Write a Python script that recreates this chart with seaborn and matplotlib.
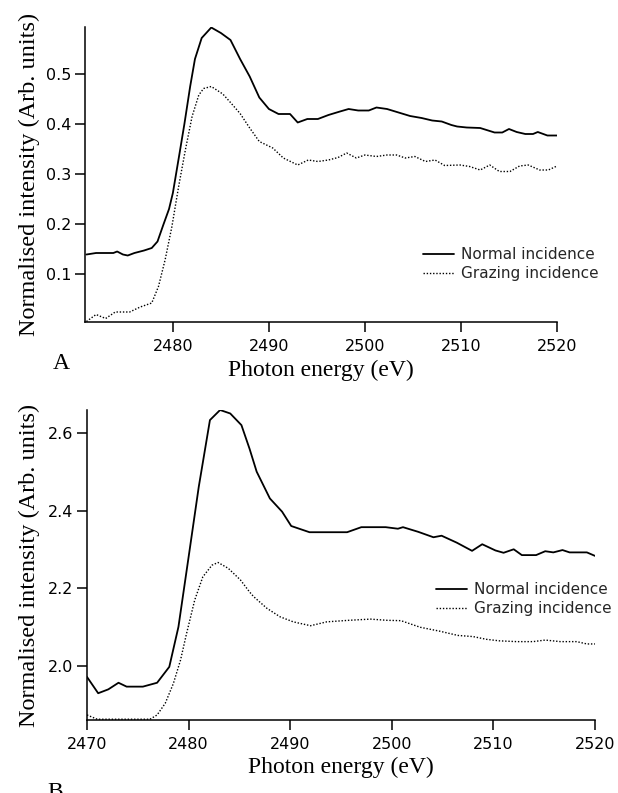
import matplotlib
matplotlib.use("Agg")
import matplotlib.pyplot as plt
import seaborn as sns
import pandas as pd

# ---------------- data ----------------
# Panel A
energy_a_normal = [2471.0, 2472.0, 2473.0, 2473.8, 2474.2, 2474.8, 2475.3, 2476.0, 2477.0, 2477.8,
                   2478.4, 2479.0, 2479.6, 2480.0, 2480.7, 2481.2, 2481.8, 2482.3, 2483.0, 2484.0,
                   2485.0, 2486.0, 2487.0, 2488.0, 2489.0, 2490.0, 2491.0, 2492.2, 2493.0, 2494.0,
                   2495.1, 2496.2, 2497.4, 2498.3, 2499.3, 2500.4, 2501.2, 2502.3, 2503.5, 2504.7,
                   2505.9, 2507.0, 2508.0, 2509.0, 2509.6, 2510.6, 2512.0, 2513.5, 2514.3, 2515.0,
                   2515.8, 2516.7, 2517.5, 2518.0, 2519.0, 2520.0]
intensity_a_normal = [0.139, 0.142, 0.142, 0.142, 0.145, 0.139, 0.137, 0.142, 0.147, 0.152,
                      0.165, 0.198, 0.230, 0.262, 0.342, 0.400, 0.475, 0.530, 0.572, 0.593,
                      0.582, 0.568, 0.530, 0.495, 0.453, 0.430, 0.420, 0.420, 0.403, 0.410,
                      0.410, 0.418, 0.425, 0.430, 0.427, 0.427, 0.433, 0.430, 0.423, 0.416,
                      0.412, 0.407, 0.405, 0.398, 0.395, 0.393, 0.392, 0.383, 0.383, 0.390,
                      0.384, 0.380, 0.380, 0.384, 0.377, 0.377]

energy_a_grazing = [2471.0, 2472.0, 2473.0, 2474.0, 2475.5, 2476.6, 2477.8, 2478.5, 2479.2, 2479.9,
                    2480.6, 2481.3, 2482.0, 2482.7, 2483.2, 2484.0, 2485.2, 2486.0, 2487.0, 2488.0,
                    2489.0, 2490.4, 2491.5, 2493.0, 2494.1, 2495.1, 2496.2, 2497.2, 2498.1, 2499.1,
                    2500.0, 2501.2, 2502.3, 2503.3, 2504.2, 2505.2, 2506.3, 2507.3, 2508.3, 2509.9,
                    2510.9, 2512.0, 2513.0, 2514.0, 2515.1, 2516.1, 2517.0, 2518.2, 2519.1, 2520.0]
intensity_a_grazing = [0.005, 0.019, 0.011, 0.024, 0.024, 0.034, 0.042, 0.075, 0.129, 0.195,
                       0.275, 0.348, 0.415, 0.458, 0.471, 0.475, 0.460, 0.443, 0.421, 0.392,
                       0.365, 0.352, 0.332, 0.318, 0.328, 0.325, 0.328, 0.333, 0.342, 0.332,
                       0.338, 0.335, 0.338, 0.338, 0.332, 0.335, 0.325, 0.328, 0.317, 0.318,
                       0.315, 0.308, 0.318, 0.305, 0.305, 0.316, 0.318, 0.308, 0.308, 0.316]

# Panel B
energy_b_normal = [2470.0, 2471.1, 2472.1, 2473.1, 2473.9, 2475.5, 2476.9, 2478.1, 2479.0, 2480.1,
                   2481.0, 2482.1, 2483.1, 2484.1, 2485.2, 2486.0, 2486.7, 2488.0, 2489.2, 2490.1,
                   2491.9, 2495.6, 2497.0, 2499.4, 2500.6, 2501.1, 2502.6, 2504.1, 2504.9, 2506.4,
                   2507.9, 2508.9, 2510.2, 2511.0, 2512.0, 2512.8, 2514.2, 2515.1, 2515.9, 2516.8,
                   2517.5, 2519.2, 2520.0]
intensity_b_normal = [1.972, 1.930, 1.940, 1.957, 1.947, 1.947, 1.957, 1.998, 2.101, 2.299,
                      2.462, 2.634, 2.660, 2.651, 2.621, 2.560, 2.501, 2.432, 2.398, 2.361,
                      2.345, 2.345, 2.358, 2.358, 2.354, 2.358, 2.346, 2.332, 2.336, 2.318,
                      2.297, 2.314, 2.298, 2.292, 2.301, 2.286, 2.286, 2.296, 2.293, 2.299,
                      2.293, 2.293, 2.284]

energy_b_grazing = [2470.0, 2471.0, 2476.2, 2476.9, 2477.7, 2478.5, 2479.2, 2479.8, 2480.6, 2481.4,
                    2482.3, 2482.9, 2483.9, 2485.1, 2486.0, 2486.4, 2487.7, 2489.0, 2490.3, 2492.0,
                    2493.6, 2495.8, 2497.9, 2499.5, 2500.9, 2502.8, 2504.7, 2506.5, 2508.0, 2509.3,
                    2510.6, 2512.3, 2513.9, 2515.1, 2516.6, 2518.2, 2519.2, 2520.0]
intensity_b_grazing = [1.874, 1.863, 1.863, 1.874, 1.904, 1.955, 2.015, 2.084, 2.170, 2.230,
                       2.260, 2.267, 2.252, 2.222, 2.191, 2.179, 2.149, 2.127, 2.114, 2.104,
                       2.114, 2.118, 2.121, 2.118, 2.117, 2.100, 2.090, 2.079, 2.076, 2.069,
                       2.065, 2.063, 2.063, 2.067, 2.063, 2.063, 2.057, 2.057]

series_labels = ["Normal incidence", "Grazing incidence"]
xticks_a = [2480, 2490, 2500, 2510, 2520]
yticks_a = [0.1, 0.2, 0.3, 0.4, 0.5]
xticks_b = [2470, 2480, 2490, 2500, 2510, 2520]
yticks_b = [2.0, 2.2, 2.4, 2.6]
xlabel_text = "Photon energy (eV)"
ylabel_text = "Normalised intensity (Arb. units)"
panel_letters = ["A", "B"]

# ---------------- style ----------------
sns.set_style("ticks")
plt.rcParams["font.family"] = ["DejaVu Sans"]

W, H = 618, 793
fig = plt.figure(figsize=(W / 100, H / 100), dpi=100)

BOX_A = (85, 27, 557, 322)   # left, top, right, bottom in pixels
BOX_B = (87, 410, 595, 720)


def px_axes(box):
    left, top, right, bottom = box
    return fig.add_axes([left / W, 1 - bottom / H, (right - left) / W, (bottom - top) / H])


ax_a = px_axes(BOX_A)
ax_b = px_axes(BOX_B)

serif = ["Liberation Serif", "DejaVu Serif"]
legend_font = {"family": ["DejaVu Sans"], "size": 11}
dot_style = (0, (1.0, 1.3))


def draw_panel(ax, box, en_n, in_n, en_g, in_g, xlim, ylim, xticks, yticks,
               leg_anchor, xlab_top, ylab_right):
    left, top, right, bottom = box
    df_n = pd.DataFrame({"E": en_n, "I": in_n})
    df_g = pd.DataFrame({"E": en_g, "I": in_g})
    sns.lineplot(data=df_n, x="E", y="I", ax=ax, color="black", linewidth=1.3,
                 label=series_labels[0], sort=False, estimator=None)
    sns.lineplot(data=df_g, x="E", y="I", ax=ax, color="black", linewidth=1.0,
                 linestyle=dot_style, label=series_labels[1], sort=False, estimator=None)
    ax.set_xlim(*xlim)
    ax.set_ylim(*ylim)
    ax.set_xticks(xticks)
    ax.set_yticks(yticks)
    ax.set_yticklabels(["{:.1f}".format(v) for v in yticks])
    ax.set_xticklabels([str(v) for v in xticks])
    for side in ("top", "right"):
        ax.spines[side].set_visible(False)
    for side in ("left", "bottom"):
        ax.spines[side].set_linewidth(1.1)
        ax.spines[side].set_color("black")
    ax.tick_params(axis="x", direction="out", length=7, width=1.1, pad=5,
                   labelsize=11.5, colors="black")
    ax.tick_params(axis="y", direction="out", length=7, width=1.1, pad=3,
                   labelsize=11.5, colors="black")
    ax.set_xlabel(xlabel_text, fontfamily=serif, fontsize=17, color="black")
    ax.set_ylabel(ylabel_text, fontfamily=serif, fontsize=17.5, color="black")
    ax.xaxis.set_label_coords(0.5, -(xlab_top - bottom) / (bottom - top))
    ax.yaxis.set_label_coords(-(left - ylab_right) / (right - left), 0.5)
    ax.set_facecolor("white")
    ax.legend(loc="upper left", bbox_to_anchor=(leg_anchor[0] / W, 1 - leg_anchor[1] / H),
              bbox_transform=fig.transFigure, frameon=False, borderpad=0,
              borderaxespad=0, handlelength=2.0, handletextpad=0.5,
              labelspacing=0.28, prop=legend_font)


draw_panel(ax_a, BOX_A, energy_a_normal, intensity_a_normal, energy_a_grazing,
           intensity_a_grazing, (2470.85, 2520), (0.004, 0.594), xticks_a, yticks_a,
           (423, 247), 360, 40)
draw_panel(ax_b, BOX_B, energy_b_normal, intensity_b_normal, energy_b_grazing,
           intensity_b_grazing, (2470, 2520), (1.861, 2.66), xticks_b, yticks_b,
           (436, 582), 757, 40)

fig.text(53 / W, 1 - 369 / H, panel_letters[0], fontfamily=serif, fontsize=17,
         ha="left", va="baseline", color="black")
fig.text(47 / W, 1 - 798 / H, panel_letters[1], fontfamily=serif, fontsize=17,
         ha="left", va="baseline", color="black")

fig.savefig("out.png", dpi=100, facecolor="white")
